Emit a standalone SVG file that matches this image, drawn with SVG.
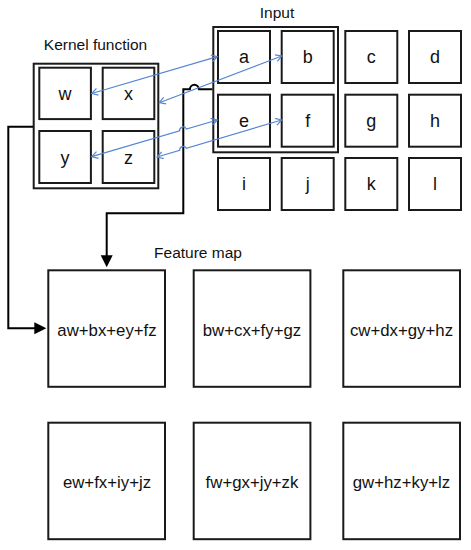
<svg xmlns="http://www.w3.org/2000/svg" width="471" height="550" viewBox="0 0 471 550">
<style>
.box{fill:#fff;stroke:#1a1a1a;stroke-width:2}
.grp{fill:none;stroke:#1a1a1a;stroke-width:2}
.t{font-family:"Liberation Sans",Arial,sans-serif;fill:#111;text-anchor:middle}
.lbl{font-size:15.5px}
.cell{font-size:18px}
.fm{font-size:16.8px}
.blk{fill:none;stroke:#000;stroke-width:2}
.blu{fill:none;stroke:#5585D5;stroke-width:1.2;marker-start:url(#open);marker-end:url(#open)}
</style>
<defs>
<marker id="solid" markerUnits="userSpaceOnUse" markerWidth="13" markerHeight="13" refX="2" refY="6" orient="auto">
<path d="M0,0 L12,6 L0,12 Z" fill="#000"/>
</marker>
<marker id="open" markerUnits="userSpaceOnUse" markerWidth="10" markerHeight="10" refX="6.5" refY="4" orient="auto-start-reverse">
<path d="M0.5,0.5 L6.5,4 L0.5,7.5" fill="none" stroke="#5585D5" stroke-width="1.2"/>
</marker>
</defs>

<rect x="0" y="0" width="471" height="550" fill="#fff"/>

<g id="kernel">
<text class="t lbl" x="95.5" y="49.5">Kernel function</text>
<rect class="grp" x="33.7" y="63.7" width="124.6" height="124.6"/>
</g>
<g id="k-w"><rect class="box" x="39.3" y="67.7" width="51.6" height="51.4"/><text class="t cell" x="65" y="99.5">w</text></g>
<g id="k-x"><rect class="box" x="102.7" y="67.7" width="51.6" height="51.4"/><text class="t cell" x="128.5" y="99.5">x</text></g>
<g id="k-y"><rect class="box" x="39.3" y="131" width="51.6" height="52"/><text class="t cell" x="65" y="163.5">y</text></g>
<g id="k-z"><rect class="box" x="102.7" y="131" width="51.6" height="52"/><text class="t cell" x="128.5" y="163.5">z</text></g>

<g id="input">
<text class="t lbl" x="277" y="17.5">Input</text>
<rect class="grp" x="213.3" y="27" width="124.7" height="125.3"/>
</g>
<g id="in-a"><rect class="box" x="218" y="31" width="52" height="52"/><text class="t cell" x="244" y="63.2">a</text></g>
<g id="in-b"><rect class="box" x="281.7" y="31" width="52" height="52"/><text class="t cell" x="307.7" y="63.2">b</text></g>
<g id="in-c"><rect class="box" x="345.3" y="31" width="52" height="52"/><text class="t cell" x="371.3" y="63.2">c</text></g>
<g id="in-d"><rect class="box" x="409" y="31" width="52" height="52"/><text class="t cell" x="435" y="63.2">d</text></g>
<g id="in-e"><rect class="box" x="218" y="94.7" width="52" height="52"/><text class="t cell" x="244" y="126.9">e</text></g>
<g id="in-f"><rect class="box" x="281.7" y="94.7" width="52" height="52"/><text class="t cell" x="307.7" y="126.9">f</text></g>
<g id="in-g"><rect class="box" x="345.3" y="94.7" width="52" height="52"/><text class="t cell" x="371.3" y="126.9">g</text></g>
<g id="in-h"><rect class="box" x="409" y="94.7" width="52" height="52"/><text class="t cell" x="435" y="126.9">h</text></g>
<g id="in-i"><rect class="box" x="218" y="158" width="52" height="52"/><text class="t cell" x="244" y="190.2">i</text></g>
<g id="in-j"><rect class="box" x="281.7" y="158" width="52" height="52"/><text class="t cell" x="307.7" y="190.2">j</text></g>
<g id="in-k"><rect class="box" x="345.3" y="158" width="52" height="52"/><text class="t cell" x="371.3" y="190.2">k</text></g>
<g id="in-l"><rect class="box" x="409" y="158" width="52" height="52"/><text class="t cell" x="435" y="190.2">l</text></g>

<g id="feature-map">
<text class="t lbl" x="198" y="258">Feature map</text>
</g>
<g id="fm-1"><rect class="box" x="48.3" y="270.3" width="116.7" height="116.5"/><text class="t fm" x="107" y="335.5">aw+bx+ey+fz</text></g>
<g id="fm-2"><rect class="box" x="193.7" y="270.3" width="116.7" height="116.5"/><text class="t fm" x="252" y="335.5">bw+cx+fy+gz</text></g>
<g id="fm-3"><rect class="box" x="343.3" y="270.3" width="116.7" height="116.5"/><text class="t fm" x="401.5" y="335.5">cw+dx+gy+hz</text></g>
<g id="fm-4"><rect class="box" x="48.3" y="422.7" width="116.7" height="116.5"/><text class="t fm" x="107" y="487.5">ew+fx+iy+jz</text></g>
<g id="fm-5"><rect class="box" x="193.7" y="422.7" width="116.7" height="116.5"/><text class="t fm" x="252" y="487.5">fw+gx+jy+zk</text></g>
<g id="fm-6"><rect class="box" x="343.3" y="422.7" width="116.7" height="116.5"/><text class="t fm" x="401.5" y="487.5">gw+hz+ky+lz</text></g>

<g id="connectors">
<path class="blk" d="M33,126.7 H8.3 V328.3 H36.3" marker-end="url(#solid)"/>
<path class="blk" d="M212.3,89.3 H198.9 A4.5,4.5 0 0 0 189.9,89.3 H183.3 V213.3 H106.7 V257.3" marker-end="url(#solid)"/>
<path class="blu" d="M91.7,93.5 L217.3,56.7"/>
<path class="blu" d="M159.3,102.7 L281.7,56"/>
<path class="blu" d="M91.7,156.7 L179.6,130.93 A3.6,3.6 0 0 1 186.4,128.97 L217.3,120"/>
<path class="blu" d="M157,157 L179.65,150.29 A3.6,3.6 0 0 1 186.36,148.3 L281.7,120"/>
</g>
</svg>
